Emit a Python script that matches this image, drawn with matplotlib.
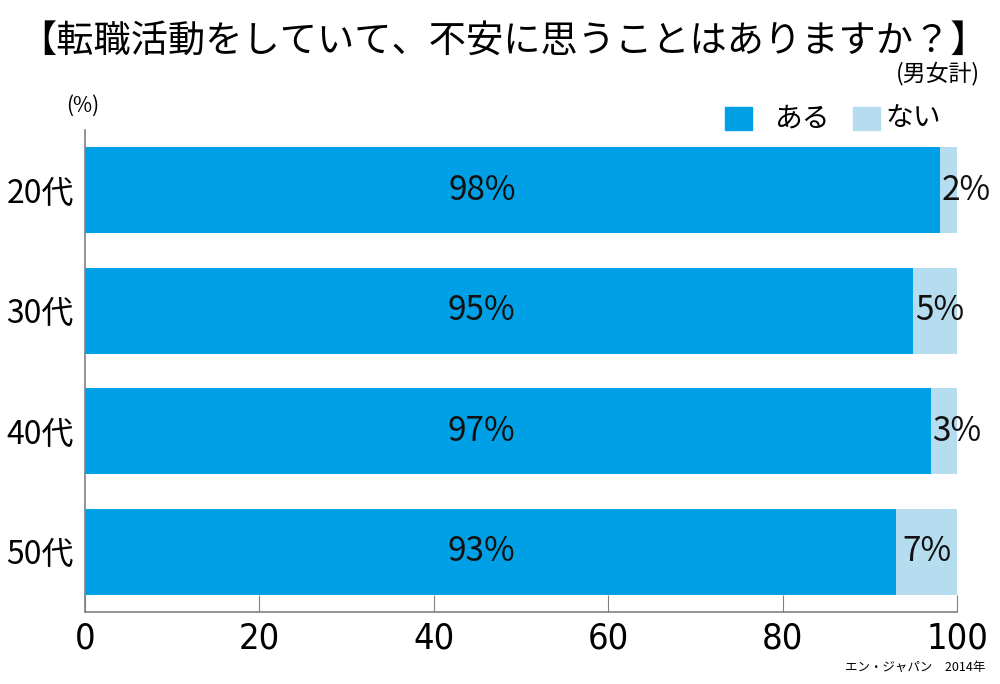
import matplotlib
matplotlib.use("Agg")
import matplotlib.pyplot as plt
from matplotlib import font_manager as fm
from matplotlib.patches import Rectangle

plt.rcParams['font.family'] = ['Noto Sans CJK JP', 'DejaVu Sans']

# data
ages = ["20代", "30代", "40代", "50代"]
aru = [98, 95, 97, 93]      # ある
nai = [2, 5, 3, 7]          # ない
xticks = [0, 20, 40, 60, 80, 100]

c_aru = "#00A0E6"
c_nai = "#B5DDEF"

# narrow regular font for tick numbers, if any is installed
narrow = None
for f in fm.fontManager.ttflist:
    is_narrow = ("Narrow" in f.name or "Condensed" in f.name
                 or f.stretch in ("condensed", "semi-condensed", "extra-condensed", "ultra-condensed")
                 or "Condensed" in f.fname or "Narrow" in f.fname)
    if is_narrow and f.weight in (400, "normal", "regular") and f.style == "normal" \
            and "Bold" not in f.fname:
        narrow = f.fname
        break

fig = plt.figure(figsize=(10, 6.84), dpi=100)
ax = fig.add_axes([0.085, 0.1053, 0.872, 0.7047])

ypos = list(range(len(ages)))
ax.barh(ypos, aru, height=0.715, color=c_aru)
ax.barh(ypos, nai, left=aru, height=0.715, color=c_nai)

for y, a, n in zip(ypos, aru, nai):
    ax.text(45.5, y, f"{a}%", ha="center", va="center", fontsize=24, color="#111111")
    xn = max(a + n / 2, a + 3)
    ax.text(xn, y, f"{n}%", ha="center", va="center", fontsize=24, color="#111111")

ax.set_xlim(0, 100)
ax.set_ylim(3.5, -0.5)
ax.set_yticks(ypos)
ax.set_yticklabels(ages, fontsize=23)
ax.tick_params(axis="y", length=0, pad=8)
ax.set_xticks(xticks)
if narrow:
    ax.set_xticklabels([str(t) for t in xticks], fontproperties=fm.FontProperties(fname=narrow, size=26))
else:
    ax.set_xticklabels([str(t) for t in xticks], fontsize=25)
ax.tick_params(axis="x", direction="in", length=12, color="#808080", pad=7)
for s in ["top", "right"]:
    ax.spines[s].set_visible(False)
for s in ["left", "bottom"]:
    ax.spines[s].set_color("#808080")
    ax.spines[s].set_linewidth(1.2)

# titles and notes
fig.text(0.504, 0.94, "【転職活動をしていて、不安に思うことはありますか？】",
         ha="center", va="center", fontsize=26.8)
fig.text(0.98, 0.893, "(男女計)", ha="right", va="center", fontsize=16.5)
fig.text(0.083, 0.846, "(%)", ha="center", va="center", fontsize=15)
fig.text(0.985, 0.024, "エン・ジャパン　2014年", ha="right", va="center", fontsize=9)

# legend
fig.patches.append(Rectangle((0.725, 0.81), 0.027, 0.034, transform=fig.transFigure,
                             color=c_aru))
fig.text(0.775, 0.827, "ある", ha="left", va="center", fontsize=20)
fig.patches.append(Rectangle((0.853, 0.81), 0.027, 0.034, transform=fig.transFigure,
                             color=c_nai))
fig.text(0.885, 0.827, "ない", ha="left", va="center", fontsize=20)

fig.savefig("out.png", dpi=100)
